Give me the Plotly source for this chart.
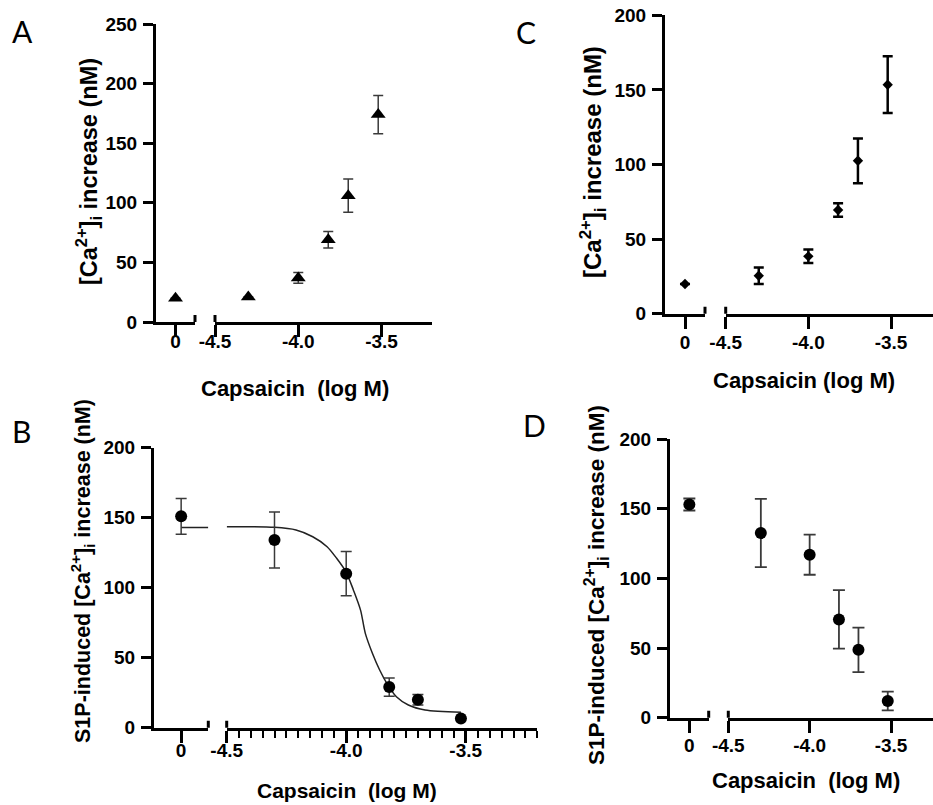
import plotly.graph_objects as go

W, H = 933, 805

# ---------------- data ----------------
ctrl_x = [0]
log_conc = [-4.3, -4.0, -3.82, -3.7, -3.52]
x_right_ticks = [-4.5, -4.0, -3.5]
x_right_labels = ["-4.5", "-4.0", "-3.5"]

A_ctrl_mean = [20]
A_ctrl_se = [0]
A_mean = [21, 37, 69, 106, 174]
A_se = [0, 4.5, 7, 14, 16]

B_ctrl_mean = [151]
B_ctrl_se = [12.8]
B_mean = [134, 110, 29, 20, 6.5]
B_se = [20, 15.8, 6.5, 3.8, 0]
B_fit_ctrl_x = [0, 0.5]
B_fit_ctrl_y = [143, 143]
B_fit_x = [-4.5, -4.30, -4.21, -4.14, -4.08, -4.04, -4.0, -3.97, -3.94, -3.92,
           -3.89, -3.86, -3.83, -3.79, -3.74, -3.67, -3.52]
B_fit_y = [143.6, 143.1, 141.2, 136.4, 129.3, 121, 111, 98.4, 84, 67.4,
           53, 41.2, 31.7, 22.1, 16.2, 12.6, 11]

C_ctrl_mean = [20]
C_ctrl_se = [0]
C_mean = [25.5, 38.5, 69.5, 102.5, 153.5]
C_se = [5.5, 4.5, 4.5, 15, 19]

D_ctrl_mean = [153]
D_ctrl_se = [4.3]
D_mean = [132.5, 117, 70.5, 48.7, 12]
D_se = [24.5, 14.4, 21, 16, 6.7]

A_yticks = [0, 50, 100, 150, 200, 250]
BCD_yticks = [0, 50, 100, 150, 200]

x_title = "Capsaicin\u00a0 (log M)"
x_title_C = "Capsaicin (log M)"
y_title_AC = "[Ca<sup>2+</sup>]<sub>i</sub> increase (nM)"
y_title_BD = "S1P-induced [Ca<sup>2+</sup>]<sub>i</sub> increase (nM)"


def px(x):
    return x / W


def py(y):
    return 1 - y / H


FONT = "Liberation Sans, Arial, sans-serif"

fig = go.Figure()
layout = dict(template="none", width=W, height=H,
              margin=dict(l=0, r=0, t=0, b=0, autoexpand=False),
              paper_bgcolor="white", plot_bgcolor="white", showlegend=False)
shapes = []
annotations = []

panels = [
    dict(xl="x", xr="x2", y="y", yax=156, lend=195, rstart=215, rend=431.5,
         y0=322, ytop=24, ymax=250, yt=A_yticks, rmax=-3.2, xstand=-12, minor=False),
    dict(xl="x3", xr="x4", y="y2", yax=154, lend=208.3, rstart=226.7, rend=537.4,
         y0=727.7, ytop=447.7, ymax=200, yt=BCD_yticks, rmax=-3.2, xstand=-9, minor=True),
    dict(xl="x5", xr="x6", y="y3", yax=665, lend=705, rstart=725.7, rend=933,
         y0=313.8, ytop=15.3, ymax=200, yt=BCD_yticks, rmax=-4.5 + (933 - 725.7) / 165.3,
         xstand=-3, minor=False),
    dict(xl="x7", xr="x8", y="y4", yax=670, lend=708.7, rstart=728.3, rend=933,
         y0=717.7, ytop=439, ymax=200, yt=BCD_yticks, rmax=-4.5 + (933 - 728.3) / 162.7,
         xstand=-4, minor=False),
]

tickfont = dict(family=FONT, size=19, color="black", weight="bold")


def key(a):
    if a.startswith("x"):
        return "xaxis" + a[1:]
    return "yaxis" + a[1:]


for p in panels:
    common_x = dict(showline=True, linecolor="black", linewidth=3, ticks="outside",
                    ticklen=12, tickwidth=3, tickcolor="black", showgrid=False,
                    zeroline=False, anchor=p["y"], tickfont=tickfont, automargin=False,
                    ticklabelstandoff=p["xstand"], fixedrange=True)
    layout[key(p["xl"])] = dict(common_x, domain=[px(p["yax"]), px(p["lend"])],
                                range=[-0.5, 0.5], tickmode="array", tickvals=ctrl_x,
                                ticktext=["0"])
    xr = dict(common_x, domain=[px(p["rstart"]), px(p["rend"])],
              range=[-4.5, p["rmax"]], tickmode="array", tickvals=x_right_ticks,
              ticktext=x_right_labels)
    if p["minor"]:
        xr["minor"] = dict(tickmode="linear", tick0=-4.5, dtick=0.05, ticks="outside",
                           ticklen=7, tickwidth=2, tickcolor="black", showgrid=False)
    layout[key(p["xr"])] = xr
    layout[key(p["y"])] = dict(domain=[py(p["y0"]), py(p["ytop"])], range=[0, p["ymax"]],
                               anchor=p["xl"], showline=True, linecolor="black", linewidth=3,
                               ticks="outside", ticklen=10, tickwidth=3, tickcolor="black",
                               tickmode="array", tickvals=p["yt"],
                               ticktext=[str(v) for v in p["yt"]], automargin=False,
                               showgrid=False, zeroline=False, tickfont=tickfont,
                               ticklabelstandoff=2, fixedrange=True)
    # axis-break caps
    for xref, xpos in ((p["xl"] + " domain", 1), (p["xr"] + " domain", 0)):
        shapes.append(dict(type="line", xref=xref, x0=xpos, x1=xpos, yref=p["y"],
                           ysizemode="pixel", yanchor=0, y0=-8, y1=7,
                           line=dict(color="black", width=3)))


def add_points(xa, ya, xs, ys, se, symbol, size, ecolor, ethick, ewidth):
    fig.add_trace(go.Scatter(x=xs, y=ys, xaxis=xa, yaxis=ya, mode="markers",
                             marker=dict(symbol=symbol, size=size, color="black",
                                         line=dict(width=0)),
                             error_y=dict(type="data", array=se, visible=True,
                                          color=ecolor, thickness=ethick, width=ewidth),
                             cliponaxis=False))


# Panel A
add_points("x", "y", ctrl_x, A_ctrl_mean, A_ctrl_se, "triangle-up", 13, "#3a3a3a", 1.5, 5)
add_points("x2", "y", log_conc, A_mean, A_se, "triangle-up", 13, "#3a3a3a", 1.5, 5)

# Panel B
fig.add_trace(go.Scatter(x=B_fit_ctrl_x, y=B_fit_ctrl_y, xaxis="x3", yaxis="y2",
                         mode="lines", line=dict(color="#222", width=1.5)))
fig.add_trace(go.Scatter(x=B_fit_x, y=B_fit_y, xaxis="x4", yaxis="y2", mode="lines",
                         line=dict(color="#222", width=1.5, shape="spline", smoothing=0.8)))
add_points("x3", "y2", ctrl_x, B_ctrl_mean, B_ctrl_se, "circle", 12, "#3a3a3a", 1.5, 5.5)
add_points("x4", "y2", log_conc, B_mean, B_se, "circle", 12, "#3a3a3a", 1.5, 5.5)

# Panel C
add_points("x5", "y3", ctrl_x, C_ctrl_mean, C_ctrl_se, "diamond", 8, "black", 2.5, 5)
add_points("x6", "y3", log_conc, C_mean, C_se, "diamond", 8, "black", 2.5, 5)

# Panel D
add_points("x7", "y4", ctrl_x, D_ctrl_mean, D_ctrl_se, "circle", 12, "#3a3a3a", 1.8, 6)
add_points("x8", "y4", log_conc, D_mean, D_se, "circle", 12, "#3a3a3a", 1.8, 6)


def title(text, cx, cy, size, angle=0):
    annotations.append(dict(text=text, x=px(cx), y=py(cy), xref="paper", yref="paper",
                            xanchor="center", yanchor="middle", showarrow=False,
                            textangle=angle,
                            font=dict(family=FONT, size=size, color="black", weight="bold")))


title(x_title, 295, 388, 22)
title(y_title_AC, 88, 172, 23.5, -90)
title(x_title, 347, 790, 21)
title(y_title_BD, 82, 571, 21.5, -90)
title(x_title_C, 804, 380, 22)
title(y_title_AC, 593, 162, 24, -90)
title(x_title, 806, 780, 22)
title(y_title_BD, 596, 585, 22.5, -90)

for letter, cx, cy in (("A", 22, 31), ("C", 526, 32), ("B", 21, 431), ("D", 534, 425)):
    annotations.append(dict(text=letter, x=px(cx), y=py(cy), xref="paper", yref="paper",
                            xanchor="center", yanchor="middle", showarrow=False,
                            font=dict(family="Lato, Open Sans, sans-serif", size=30,
                                      color="black")))

layout["shapes"] = shapes
layout["annotations"] = annotations
fig.update_layout(**layout)
fig.write_html("out.html", config={"displayModeBar": False},
               post_script="document.body.style.margin='0';document.body.style.overflow='hidden';")
